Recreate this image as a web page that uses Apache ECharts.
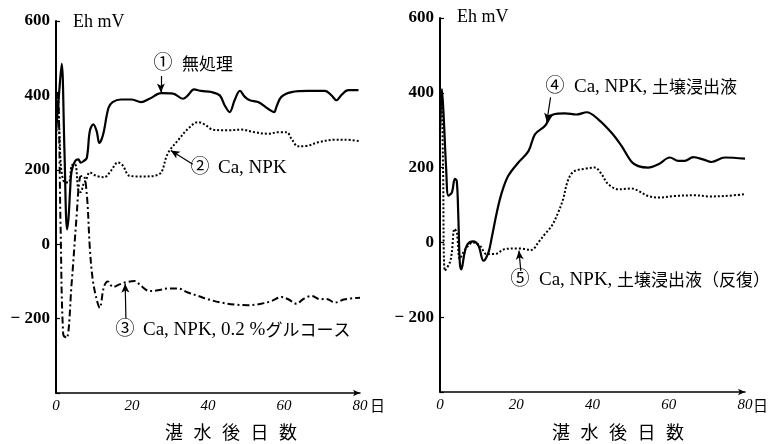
<!DOCTYPE html>
<html>
<head>
<meta charset="utf-8">
<script src="https://cdn.jsdelivr.net/npm/echarts@6/dist/echarts.min.js"></script>
<style>html,body{margin:0;padding:0;background:#fff}#c{width:770px;height:444px}</style>
</head>
<body>
<div id="c"></div>
<script>
// ---- data (day after flooding, Eh mV) ----
var yTicks = [600, 400, 200, 0, -200];
var xTicks = [0, 20, 40, 60, 80];

// Left panel
var s1Days = [0, 0.7, 1.5, 2.2, 2.9, 3.3, 3.7, 4.1, 5, 5.9, 6.5, 7.2, 8.1, 8.9, 9.8, 10.7, 11.4, 12.4, 13.8, 14.9, 17.1, 19.8, 22.4, 24.6, 27.7, 30.8, 33.4, 34.7, 36.3, 38.2, 40.9, 43.1, 44.4, 45.7, 47, 48.4, 49.7, 51, 53.2, 55.8, 57.4, 58, 59.3, 62, 66.4, 70.8, 72.5, 73.8, 75.2, 76.9, 79.6];
var s1Vals = [300, 390, 485, 260, 40, 71, 143, 196, 223, 228, 219, 223, 232, 304, 322, 304, 272, 295, 366, 382, 389, 389, 382, 391, 406, 405, 391, 400, 416, 412, 409, 400, 373, 355, 387, 412, 396, 387, 382, 364, 355, 369, 396, 409, 412, 412, 400, 387, 402, 414, 414];

var s2Days = [0, 0.4, 0.9, 1.4, 2.4, 3.5, 4.1, 5, 5.9, 6.5, 7.2, 8, 8.9, 10.5, 12.7, 14.5, 16.3, 17.6, 19.3, 22.4, 25.9, 27.7, 29, 29.9, 32.1, 34.7, 37.4, 39.1, 41.3, 45.3, 48.8, 52.3, 55.8, 58.5, 60.7, 62, 63.7, 66.4, 69, 73.4, 76, 80];
var s2Vals = [250, 410, 300, 200, 166, 168, 211, 215, 144, 140, 160, 175, 193, 184, 180, 198, 220, 211, 184, 182, 184, 193, 234, 252, 279, 310, 328, 322, 308, 306, 308, 301, 297, 301, 301, 283, 263, 265, 274, 281, 281, 277];

var s3Days = [0, 0.5, 1.2, 1.9, 2.8, 4.1, 5.4, 6.3, 7.2, 8.1, 8.9, 9.6, 10.5, 11.5, 12.6, 13.6, 15, 16.7, 18.5, 20.7, 22.4, 24.6, 26.8, 29.5, 32.1, 34.7, 37.4, 40, 43.5, 47, 50.5, 54, 56.7, 59.3, 61.1, 63.3, 65, 67.3, 69.5, 71.2, 73.4, 76, 80];
var s3Vals = [350, 400, 50, -243, -252, -107, 72, 180, 184, 135, -10, -90, -140, -171, -115, -100, -115, -108, -102, -99, -112, -126, -124, -119, -119, -130, -139, -148, -157, -162, -164, -160, -153, -142, -148, -160, -148, -139, -148, -147, -157, -148, -144];

// Right panel
var s4Days = [0, 0.5, 1, 1.6, 2.2, 3.1, 3.9, 4.4, 4.8, 5.2, 5.6, 6.4, 7.2, 8.7, 10.1, 11.4, 12.7, 13.5, 14.9, 16.2, 17.9, 20.5, 23.2, 24.9, 27.5, 29.7, 32.8, 35.8, 38.5, 41.5, 45, 47.6, 50.3, 52, 54.6, 57.3, 60.3, 62.5, 64.2, 66.4, 69, 71.2, 74.7, 80];
var s4Vals = [300, 410, 330, 200, 125, 133, 170, 164, 71, -55, -72, -30, -5, 3, -9, -49, -27, 9, 80, 133, 178, 213, 244, 289, 311, 342, 345, 342, 348, 329, 293, 258, 215, 204, 200, 209, 227, 218, 218, 228, 222, 215, 227, 224];

var s5Days = [0, 0.4, 0.8, 1.3, 2.6, 3.1, 3.8, 4.4, 5.2, 6.1, 7.4, 8.7, 10.5, 12.2, 14.4, 17, 20.5, 24, 25.8, 27.5, 29.3, 31, 32.3, 33.5, 35, 38, 40.6, 42.4, 44.1, 46.8, 50.3, 52, 54.6, 57.3, 61.6, 66.9, 70.4, 74.7, 80];
var s5Vals = [300, 400, 200, -76, -53, -27, 36, 27, -44, -27, -9, 0, -9, -31, -31, -18, -16, -20, 0, 22, 44, 80, 116, 164, 189, 197, 200, 182, 156, 142, 144, 138, 124, 120, 124, 126, 123, 124, 129];

// annotation labels (latin part, japanese part) and arrows [fromDay, fromVal, toDay, toVal]
var labelNums = ['①', '②', '③', '④', '⑤'];
var labelLatin = ['', 'Ca, NPK', 'Ca, NPK, 0.2 %', 'Ca, NPK, ', 'Ca, NPK, '];
var labelJapanese = ['無処理', '', 'グルコース', '土壌浸出液', '土壌浸出液（反復）'];
var arrow1 = [27.6, 452, 27.6, 408];
var arrow2 = [36.0, 215, 30.2, 252];
var arrow3 = [18.4, -200, 18.2, -106];
var arrow4 = [29.0, 388, 28.0, 322];
var arrow5 = [21.2, -76, 20.7, -22];

var titleChars = ['湛', '水', '後', '日', '数'];

function zip(a, b) { return a.map(function (d, i) { return [d, b[i]]; }); }

var SERIF = '"Liberation Serif", "Noto Sans CJK JP", serif';
var CJK = '"Noto Sans CJK JP", sans-serif';

function arrowMark(a) {
  return {
    silent: true, symbol: ['none', 'arrow'], symbolSize: [6, 9],
    lineStyle: { type: 'solid', width: 1.2, color: '#000' },
    label: { show: false }, emphasis: { disabled: true },
    data: [[{ coord: [a[0], a[1]] }, { coord: [a[2], a[3]] }]]
  };
}

function mkX(idx) {
  return {
    type: 'value', gridIndex: idx, min: 0, max: 80, interval: 20,
    axisLine: { show: true, onZero: false, symbol: ['none', 'arrow'], symbolSize: [5, 7], lineStyle: { color: '#000', width: 1.5 } },
    axisTick: { show: false }, splitLine: { show: false },
    axisLabel: { margin: 6, color: '#000', fontFamily: SERIF, fontSize: 15, fontStyle: 'italic' }
  };
}
function mkY(idx) {
  return {
    type: 'value', gridIndex: idx, min: -400, max: 600, interval: 200,
    axisLine: { show: true, onZero: false, lineStyle: { color: '#000', width: 2 } },
    axisTick: { show: true, inside: true, length: 4, lineStyle: { color: '#000', width: 1.2 } },
    splitLine: { show: false },
    axisLabel: {
      margin: 6, color: '#000', fontFamily: SERIF, fontSize: 17, fontWeight: 'bold',
      formatter: function (v) { if (yTicks.indexOf(v) < 0) return ''; return v < 0 ? '− ' + (-v) : String(v); }
    }
  };
}
function lineSeries(xi, data, type, arrow) {
  return {
    type: 'line', xAxisIndex: xi, yAxisIndex: xi, data: data, smooth: 0.35, symbol: 'none',
    lineStyle: { color: '#000', width: type === 'solid' ? 2.2 : 2, type: type },
    emphasis: { disabled: true }, markLine: arrowMark(arrow)
  };
}

var graphics = [];
function txt(x, y, s, size, align, weight, fam) {
  graphics.push({ type: 'text', x: x, y: y, silent: true,
    style: { text: s, fill: '#000', font: (weight || 'normal') + ' ' + size + 'px ' + (fam || SERIF), align: align || 'left', verticalAlign: 'middle' } });
}
function richTxt(x, y, lat, jp) {
  var s = (lat ? '{b|' + lat + '}' : '') + (jp ? '{j|' + jp + '}' : '');
  graphics.push({ type: 'text', x: x, y: y, silent: true,
    style: { text: s, fill: '#000', align: 'left', verticalAlign: 'middle',
      rich: {
        b: { fontFamily: SERIF, fontSize: 19, fontWeight: 'normal', fill: '#000', verticalAlign: 'middle' },
        j: { fontFamily: CJK, fontSize: 17, fontWeight: 'normal', fill: '#000', verticalAlign: 'middle' }
      } } });
}
// Eh mV headers
txt(73, 22, 'Eh mV', 18); txt(457, 17, 'Eh mV', 18);
// 日 after 80
txt(370, 405, '日', 15, 'left', 'normal', CJK); txt(753, 405, '日', 15, 'left', 'normal', CJK);
// x-axis titles
titleChars.forEach(function (c, i) { txt(174 + 28.5 * i, 432, c, 18, 'center', 'normal', CJK); txt(561 + 28.5 * i, 432, c, 18, 'center', 'normal', CJK); });
// annotations
var numPos = [[163, 64], [200, 168], [125, 330], [555, 87], [520, 280]];
var textPos = [[182, 64], [218, 168], [143, 330], [574, 87], [539, 280]];
labelNums.forEach(function (n, i) {
  txt(numPos[i][0], numPos[i][1], n, 19, 'center');
  richTxt(textPos[i][0], textPos[i][1], labelLatin[i], labelJapanese[i]);
});

var chart = echarts.init(document.getElementById('c'), null, { renderer: 'canvas' });
chart.setOption({
  animation: false,
  backgroundColor: '#fff',
  grid: [
    { left: 56, top: 21, width: 304, height: 372 },
    { left: 440, top: 18, width: 305, height: 374 }
  ],
  xAxis: [mkX(0), mkX(1)],
  yAxis: [mkY(0), mkY(1)],
  series: [
    lineSeries(0, zip(s1Days, s1Vals), 'solid', arrow1),
    lineSeries(0, zip(s2Days, s2Vals), [2, 2], arrow2),
    lineSeries(0, zip(s3Days, s3Vals), [7, 3, 2, 3], arrow3),
    lineSeries(1, zip(s4Days, s4Vals), 'solid', arrow4),
    lineSeries(1, zip(s5Days, s5Vals), [2, 2], arrow5)
  ],
  graphic: graphics
});
</script>
</body>
</html>
